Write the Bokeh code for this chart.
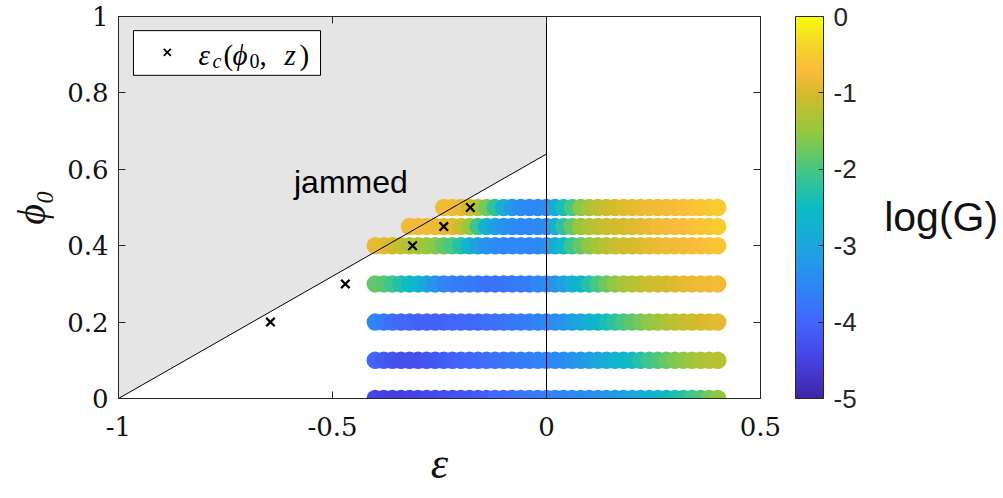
import numpy as np
from bokeh.plotting import figure
from bokeh.layouts import row
from bokeh.models import (LinearColorMapper, ColorBar, FixedTicker, LinearAxis, Label,
                          CustomJSTickFormatter, ColumnDataSource)
from bokeh.transform import transform
from bokeh.embed import file_html
from bokeh.resources import INLINE

# ---------------- data ----------------
EPS = [-0.40, -0.38, -0.36, -0.34, -0.32, -0.30, -0.28, -0.26, -0.24, -0.22, -0.20,
       -0.18, -0.16, -0.14, -0.12, -0.10, -0.08, -0.06, -0.04, -0.02, 0.00,
       0.02, 0.04, 0.06, 0.08, 0.10, 0.12, 0.14, 0.16, 0.18, 0.20,
       0.22, 0.24, 0.26, 0.28, 0.30, 0.32, 0.34, 0.36, 0.38, 0.40]

PHI_ROWS = [0.0, 0.1, 0.2, 0.3, 0.4, 0.45, 0.5]

LOGG_PHI000 = [-4.4, -4.5, -4.55, -4.55, -4.5, -4.5, -4.45, -4.4, -4.35, -4.3, -4.25,
               -4.2, -4.15, -4.1, -4.0, -3.95, -3.9, -3.8, -3.75, -3.7, -3.65,
               -3.6, -3.55, -3.5, -3.45, -3.4, -3.35, -3.3, -3.2, -3.1, -3.0,
               -2.9, -2.8, -2.7, -2.55, -2.4, -2.25, -2.1, -1.95, -1.75, -1.55]
LOGG_PHI010 = [-4.0, -4.15, -4.25, -4.3, -4.3, -4.3, -4.25, -4.2, -4.15, -4.1, -4.05,
               -4.0, -3.95, -3.9, -3.85, -3.8, -3.75, -3.7, -3.65, -3.6, -3.55,
               -3.5, -3.45, -3.35, -3.25, -3.15, -3.0, -2.9, -2.75, -2.6, -2.45,
               -2.3, -2.1, -1.95, -1.8, -1.65, -1.55, -1.45, -1.35, -1.3, -1.25]
LOGG_PHI020 = [-3.5, -3.7, -3.85, -3.95, -4.0, -4.05, -4.05, -4.05, -4.05, -4.0, -4.0,
               -4.0, -3.95, -3.9, -3.85, -3.8, -3.75, -3.7, -3.65, -3.6, -3.5,
               -3.4, -3.3, -3.15, -3.0, -2.8, -2.6, -2.4, -2.2, -2.0, -1.85,
               -1.7, -1.55, -1.45, -1.35, -1.25, -1.15, -1.1, -1.0, -0.95, -0.9]
LOGG_PHI030 = [-1.8, -1.9, -2.1, -2.3, -2.5, -2.7, -3.0, -3.3, -3.5, -3.6, -3.65,
               -3.7, -3.75, -3.8, -3.8, -3.8, -3.75, -3.7, -3.65, -3.55, -3.45,
               -3.3, -3.1, -2.85, -2.6, -2.3, -2.0, -1.75, -1.55, -1.4, -1.3,
               -1.2, -1.1, -1.05, -1.0, -0.95, -0.9, -0.85, -0.82, -0.8, -0.78]
LOGG_PHI040 = [-0.85, -0.9, -1.0, -1.15, -1.25, -1.35, -1.45, -1.6, -1.8, -2.0, -2.3,
               -2.7, -3.1, -3.3, -3.4, -3.5, -3.5, -3.5, -3.5, -3.5, -3.4,
               -2.9, -2.5, -2.1, -1.8, -1.55, -1.4, -1.25, -1.15, -1.05, -1.0,
               -0.95, -0.9, -0.85, -0.82, -0.8, -0.78, -0.75, -0.7, -0.65, -0.6]
LOGG_PHI045 = [-0.8, -0.8, -0.8, -0.82, -0.85, -0.9, -1.1, -1.5, -2.1, -2.7, -3.1,
               -3.3, -3.4, -3.5, -3.5, -3.5, -3.4,
               -2.8, -2.2, -1.8, -1.5, -1.3, -1.2, -1.1, -1.05, -1.0, -0.95,
               -0.9, -0.85, -0.8, -0.78, -0.75, -0.7, -0.65, -0.6, -0.55, -0.5]
LOGG_PHI050 = [-0.8, -0.8, -0.85, -1.0, -1.3, -1.7, -2.2, -2.8, -3.2, -3.4, -3.5,
               -3.5, -3.4,
               -2.9, -2.4, -2.0, -1.6, -1.35, -1.2, -1.1, -1.0, -0.95, -0.9,
               -0.85, -0.82, -0.8, -0.78, -0.75, -0.7, -0.65, -0.6, -0.55, -0.5]
LOGG_ROWS = [LOGG_PHI000, LOGG_PHI010, LOGG_PHI020, LOGG_PHI030,
             LOGG_PHI040, LOGG_PHI045, LOGG_PHI050]

CROSS_EPS = [-0.645, -0.47, -0.313, -0.24, -0.178]
CROSS_PHI = [0.2, 0.3, 0.4, 0.45, 0.5]

JAM_EPS = [-1.0, 0.0, 0.0, -1.0]
JAM_PHI = [0.0, 0.64, 1.0, 1.0]
JAM_LINE_EPS = [-1.0, 0.0]
JAM_LINE_PHI = [0.0, 0.64]
ZERO_EPS = [0.0, 0.0]
ZERO_PHI = [0.0, 1.0]

X_TICKS = [-1, -0.5, 0, 0.5]
Y_TICKS = [0, 0.2, 0.4, 0.6, 0.8, 1]
CB_TICKS = [-5, -4, -3, -2, -1, 0]

# ---------------- parula-like palette ----------------
anchors = [(0.0, (62, 38, 168)), (0.1, (70, 66, 227)), (0.2, (66, 102, 252)),
           (0.3, (45, 136, 246)), (0.4, (28, 166, 221)), (0.5, (12, 187, 196)),
           (0.6, (70, 199, 130)), (0.7, (150, 200, 62)), (0.8, (213, 187, 44)),
           (0.86, (252, 187, 60)), (0.93, (245, 215, 40)), (1.0, (249, 251, 14))]
at = np.array([a[0] for a in anchors])
ac = np.array([a[1] for a in anchors], dtype=float)
tt = np.linspace(0, 1, 256)
PALETTE = ["#%02x%02x%02x" % tuple(int(round(np.interp(t, at, ac[:, k]))) for k in range(3))
           for t in tt]

# ---------------- build sources ----------------
xs, ys, gs = [], [], []
for phi, vals in zip(PHI_ROWS, LOGG_ROWS):
    ex = EPS[-len(vals):]
    xs += ex
    ys += [phi] * len(vals)
    gs += vals
src = ColumnDataSource(dict(eps=xs, phi=ys, g=gs))

mapper = LinearColorMapper(palette=PALETTE, low=-5, high=0)

W1, W2, H = 880, 123, 498
p = figure(width=W1, height=H, x_range=(-1, 0.5), y_range=(0, 1),
           output_backend="svg", toolbar_location=None,
           min_border_left=118, min_border_right=W1 - 760, min_border_top=16,
           min_border_bottom=100)
p.grid.visible = False
p.outline_line_color = "#262626"
p.background_fill_color = "white"
p.border_fill_color = "white"

fmt = CustomJSTickFormatter(code="return tick.toString();")
AX_COL = "#262626"
TICK_FONT = "DejaVu Serif"

for ax in (p.xaxis[0], p.yaxis[0]):
    ax.formatter = fmt
    ax.major_tick_in = 7
    ax.major_tick_out = 0
    ax.minor_tick_line_color = None
    ax.axis_line_color = AX_COL
    ax.major_tick_line_color = AX_COL
    ax.major_label_text_font = TICK_FONT
    ax.major_label_text_font_size = "26px"
    ax.major_label_text_color = "#111111"
    ax.axis_label_text_font = "Liberation Serif"
    ax.axis_label_text_font_style = "italic"
    ax.axis_label_text_color = "#111111"
p.xaxis[0].ticker = FixedTicker(ticks=X_TICKS)
p.yaxis[0].ticker = FixedTicker(ticks=Y_TICKS)
p.xaxis[0].major_label_standoff = 18
p.yaxis[0].major_label_standoff = 10
p.xaxis[0].axis_label = "ε"
p.yaxis[0].axis_label = "ϕ₀"
p.xaxis[0].axis_label_text_font_size = "44px"
p.yaxis[0].axis_label_text_font_size = "40px"
p.xaxis[0].axis_label_standoff = 0
p.yaxis[0].axis_label_standoff = 10

top_ax = LinearAxis(ticker=FixedTicker(ticks=X_TICKS), major_tick_in=7, major_tick_out=0,
                    minor_tick_line_color=None, major_label_text_font_size="1px",
                    major_label_text_alpha=0, major_label_standoff=0,
                    axis_line_color=AX_COL, major_tick_line_color=AX_COL)
right_ax = LinearAxis(ticker=FixedTicker(ticks=Y_TICKS), major_tick_in=7, major_tick_out=0,
                      minor_tick_line_color=None, major_label_text_font_size="1px",
                      major_label_text_alpha=0, major_label_standoff=0,
                      axis_line_color=AX_COL, major_tick_line_color=AX_COL)
p.add_layout(top_ax, "above")
p.add_layout(right_ax, "right")

# jammed region
p.patch(JAM_EPS, JAM_PHI, fill_color="#e5e5e5", line_color=None)

# data rows
p.scatter("eps", "phi", source=src, size=17.5, marker="circle",
          fill_color=transform("g", mapper), line_color=None)

# lines
p.line(JAM_LINE_EPS, JAM_LINE_PHI, line_color="black", line_width=1)
p.line(ZERO_EPS, ZERO_PHI, line_color="black", line_width=1)

# critical strain crosses
p.scatter(CROSS_EPS, CROSS_PHI, marker="x", size=12, line_width=2.2, line_color="black")

# jammed label
p.add_layout(Label(x=-0.59, y=0.568, text="jammed", text_font="Liberation Sans",
                   text_font_size="32px", text_baseline="middle", text_color="black"))

# legend box
p.quad(left=[-0.965], right=[-0.528], bottom=[0.846], top=[0.963],
       fill_color="white", line_color="black", line_width=1)
p.scatter([-0.886], [0.906], marker="x", size=10, line_width=1.8, line_color="black")
lx, ly = -0.813, 0.898
pieces = [("ε", 0, 0, "italic", "29px"), ("c", 14, -6, "italic", "20px"),
          ("(", 25, 0, "normal", "29px"), ("ϕ", 34, 0, "italic", "29px"),
          ("0", 51, -6, "normal", "20px"), (",", 61, 0, "normal", "29px"),
          ("z", 86, 0, "italic", "29px"), (")", 101, 0, "normal", "29px")]
for t, dx, dy, st, fs in pieces:
    p.add_layout(Label(x=lx, y=ly, x_offset=dx, y_offset=dy, text=t,
                       text_font="Liberation Serif", text_font_style=st,
                       text_font_size=fs, text_baseline="middle", text_color="black"))

# colorbar
cb = ColorBar(color_mapper=mapper, ticker=FixedTicker(ticks=CB_TICKS), formatter=fmt,
              width=28, height=382, padding=0, margin=0, location=(35, 0),
              major_label_text_font="Liberation Sans", major_label_text_font_size="26px",
              major_label_text_color="#262626",
              major_tick_in=5, major_tick_out=0, major_tick_line_color="#262626",
              minor_tick_line_color=None,
              bar_line_color="#262626", border_line_color=None,
              background_fill_color=None, label_standoff=10)
p.add_layout(cb, "right")

# colorbar title panel
p2 = figure(width=W2, height=H, x_range=(0, 1), y_range=(0, 1), title=None,
            output_backend="svg", toolbar_location=None,
            x_axis_type=None, y_axis_type=None, min_border=0)
p2.grid.visible = False
p2.outline_line_color = None
p2.add_layout(Label(x=0.03, y=0.475, text="log(G)", text_font="Liberation Sans",
                    text_font_size="41px", text_baseline="middle", text_color="#111111"))

layout = row(p, p2, spacing=0)
open("out.html", "w").write(file_html(layout, INLINE))
